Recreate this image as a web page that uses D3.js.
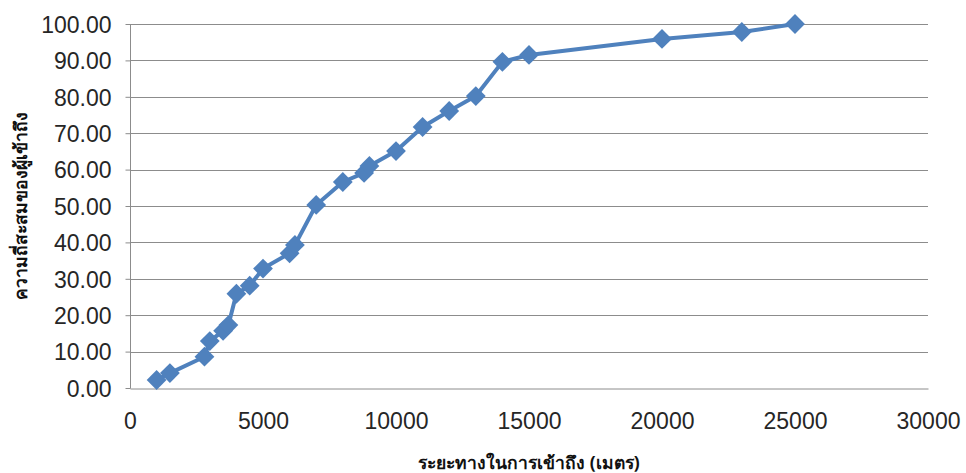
<!DOCTYPE html>
<html>
<head>
<meta charset="utf-8">
<script src="https://cdn.jsdelivr.net/npm/d3@7"></script>
<style>
  html, body { margin: 0; padding: 0; background: #fff; }
  svg { display: block; }
</style>
</head>
<body>
<svg id="chart" width="966" height="473"></svg>
<script>
// Access distance (metres) and cumulative share of users reached (%)
const distances = [1000, 1500, 2800, 3000, 3500, 3700, 4000, 4500, 5000, 6000, 6200, 7000,
                   8000, 8800, 9000, 10000, 11000, 12000, 13000, 14000, 15000, 20000, 23000, 25000];
const cumulative = [2.2, 4.1, 8.6, 12.9, 15.7, 17.3, 25.9, 28.1, 32.8, 37.0, 39.3, 50.3,
                    56.6, 59.1, 61.0, 65.1, 71.7, 76.1, 80.2, 89.6, 91.5, 95.9, 97.8, 100.0];
const xTicks = [0, 5000, 10000, 15000, 20000, 25000, 30000];
const yTicks = [0, 10, 20, 30, 40, 50, 60, 70, 80, 90, 100];
const xTitle = "ระยะทางในการเข้าถึง (เมตร)";
const yTitle = "ความถี่สะสมของผู้เข้าถึง";

const points = distances.map((d, i) => ({ x: d, y: cumulative[i] }));

const svg = d3.select("#chart");
const plot = { left: 130, right: 928, top: 24, bottom: 388 };

const x = d3.scaleLinear().domain([0, 30000]).range([plot.left, plot.right]);
const y = d3.scaleLinear().domain([0, 100]).range([plot.bottom, plot.top]);

const tickFont = "'Liberation Sans', Arial, sans-serif";
const blue = "#4F81BD";

// horizontal gridlines
svg.append("g")
  .selectAll("line")
  .data(yTicks.filter(t => t > 0))
  .join("line")
  .attr("x1", plot.left).attr("x2", plot.right)
  .attr("y1", d => Math.round(y(d)) + 0.5).attr("y2", d => Math.round(y(d)) + 0.5)
  .attr("stroke", "#8c8c8c").attr("stroke-width", 1);

// y axis
const yAxis = svg.append("g")
  .attr("transform", `translate(${plot.left + 0.5},0)`)
  .call(d3.axisLeft(y).tickValues(yTicks).tickFormat(d3.format(".2f")).tickSize(5).tickPadding(14));
yAxis.select(".domain").attr("stroke", "#8c8c8c").attr("d", `M0,${plot.top}V${plot.bottom + 0.5}`);
yAxis.selectAll(".tick line").attr("stroke", "#8c8c8c");
yAxis.selectAll(".tick text")
  .attr("font-family", tickFont).attr("font-size", 23).attr("fill", "#262626")
  .attr("dy", "0.36em");

// x axis
const xAxis = svg.append("g")
  .attr("transform", `translate(0,${plot.bottom + 0.5})`)
  .call(d3.axisBottom(x).tickValues(xTicks).tickFormat(d3.format("d")).tickSize(0).tickPadding(24));
xAxis.select(".domain").attr("stroke", "#8c8c8c");
xAxis.selectAll(".tick text")
  .attr("font-family", tickFont).attr("font-size", 23).attr("fill", "#262626");

// series line
svg.append("path")
  .datum(points)
  .attr("fill", "none")
  .attr("stroke", blue)
  .attr("stroke-width", 4)
  .attr("stroke-linejoin", "round")
  .attr("d", d3.line().x(d => x(d.x)).y(d => y(d.y)));

// diamond markers
const diamond = d3.symbol().type(d3.symbolDiamond2).size(250);
svg.append("g")
  .selectAll("path")
  .data(points)
  .join("path")
  .attr("transform", d => `translate(${x(d.x)},${y(d.y)})`)
  .attr("d", diamond)
  .attr("fill", blue);

// axis titles
svg.append("text")
  .attr("x", 529).attr("y", 469)
  .attr("text-anchor", "middle")
  .attr("font-family", "'Noto Sans', 'DejaVu Sans', sans-serif")
  .attr("font-weight", "bold").attr("font-size", 17.5).attr("fill", "#111")
  .text(xTitle);

svg.append("text")
  .attr("transform", "translate(27,206) rotate(-90)")
  .attr("text-anchor", "middle")
  .attr("font-family", "'Noto Sans', 'DejaVu Sans', sans-serif")
  .attr("font-weight", "bold").attr("font-size", 17.5).attr("fill", "#111")
  .text(yTitle);
</script>
</body>
</html>
